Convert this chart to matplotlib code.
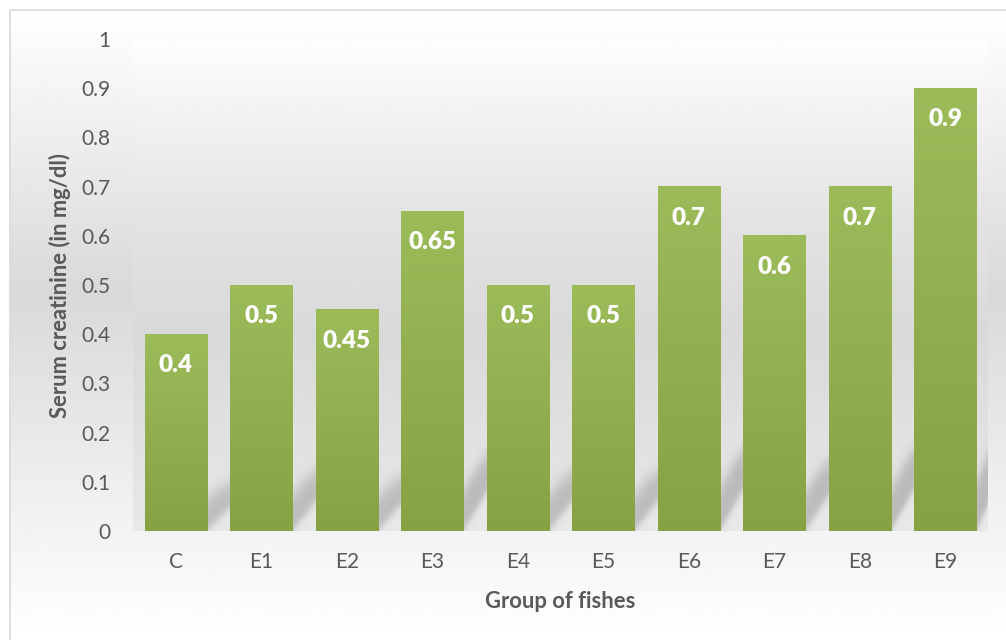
import numpy as np
import matplotlib
matplotlib.use('Agg')
import matplotlib.pyplot as plt
from matplotlib.colors import to_rgb

# ---------------- data ----------------
categories = ['C', 'E1', 'E2', 'E3', 'E4', 'E5', 'E6', 'E7', 'E8', 'E9']
values = [0.4, 0.5, 0.45, 0.65, 0.5, 0.5, 0.7, 0.6, 0.7, 0.9]
value_labels = ['0.4', '0.5', '0.45', '0.65', '0.5', '0.5', '0.7', '0.6', '0.7', '0.9']
y_ticks = [0, 0.1, 0.2, 0.3, 0.4, 0.5, 0.6, 0.7, 0.8, 0.9, 1.0]
y_tick_labels = ['0', '0.1', '0.2', '0.3', '0.4', '0.5', '0.6', '0.7', '0.8', '0.9', '1']
x_title = 'Group of fishes'
y_title = 'Serum creatinine (in mg/dl)'

# ---------------- style ----------------
W, H = 1006, 640
plt.rcParams['font.family'] = ['Lato', 'DejaVu Sans']
TXT = '#595959'
BAR_TOP = np.array(to_rgb('#9cbb59'))
BAR_BOT = np.array(to_rgb('#86a344'))
BAR_W = 0.726

fig = plt.figure(figsize=(W / 100, H / 100), dpi=100)
fig.patch.set_facecolor('white')

# chart-area background (gradient + border)
bg = fig.add_axes([0, 0, 1, 1], zorder=-10)
bg.axis('off')
g = np.interp(np.linspace(0, 1, 512), [0, 0.45, 1], [255, 217, 255]) / 255
bg.imshow(np.repeat(g[:, None], 2, axis=1), cmap='gray', vmin=0, vmax=1,
          extent=[10, W, H, 9], aspect='auto', interpolation='bilinear')
bg.plot([10.5, 10.5, W], [H, 9.5, 9.5], color='#d9d9d9', lw=1.2)
bg.set_xlim(0, W)
bg.set_ylim(H, 0)

# plot area
L, R, T, B = 133, 988, 39, 531
ax = fig.add_axes([L / W, (H - B) / H, (R - L) / W, (B - T) / H])
ax.set_facecolor('none')
for s in ax.spines.values():
    s.set_visible(False)

x = np.arange(len(categories))
xmin, xmax = -0.5, len(categories) - 0.5

# plot-area gradient
pg = np.interp(np.linspace(0, 1, 512), [0, 0.35, 0.6, 1], [253, 228, 217, 232]) / 255
ax.imshow(np.repeat(pg[:, None], 2, axis=1), cmap='gray', vmin=0, vmax=1,
          extent=[xmin, xmax + 0.04, 0, 1], aspect='auto', origin='upper',
          interpolation='bilinear', zorder=0)

# perspective shadows (computed in pixel units of the plot area)
px_x = (R - L) / (xmax - xmin)
px_y = (B - T)
nx, ny = R - L, B - T
Xp, Yp = np.meshgrid(np.arange(nx) + 0.5, np.arange(ny) + 0.5)
keep = np.ones_like(Xp)
sig = lambda z: 1 / (1 + np.exp(-z))
for xi, v in zip(x, values):
    h_px = v * px_y
    xr_px = (xi + BAR_W / 2 - xmin) * px_x
    slope = 0.0052 * h_px
    thick = 18 + 0.07 * h_px
    hs = 0.25 * h_px
    d = Yp - (Xp - xr_px) * slope
    band = sig(d / 3) * sig((thick - d) / 6) * sig((hs - Yp) / 6) * sig((Xp - xr_px + 6) / 2)
    a = 0.26 * band
    keep *= (1 - a)
shadow = np.zeros((ny, nx, 4))
shadow[..., :3] = 0.25
shadow[..., 3] = 1 - keep
ax.imshow(shadow, extent=[xmin, xmax, 0, 1], origin='lower', aspect='auto',
          interpolation='bilinear', zorder=1)

# bars with vertical gradient
bars = ax.bar(x, values, width=BAR_W, color='#90af4f', linewidth=0, zorder=2)
grad = np.linspace(0, 1, 256)[:, None, None]
grad_img = BAR_TOP[None, None, :] * (1 - grad) + BAR_BOT[None, None, :] * grad
for rect in bars:
    x0, w, h = rect.get_x(), rect.get_width(), rect.get_height()
    ax.imshow(grad_img, extent=[x0, x0 + w, 0, h], aspect='auto', origin='upper',
              interpolation='bilinear', zorder=3)

# value labels
for xi, v, lab in zip(x, values, value_labels):
    ax.annotate(lab, (xi, v), xytext=(0, -29 * 0.72), textcoords='offset points',
                ha='center', va='center_baseline', color='white', fontsize=17.5,
                fontweight='heavy', zorder=5)

ax.set_xlim(xmin, xmax)
ax.set_ylim(0, 1)
ax.set_xticks(x, categories)
ax.set_yticks(y_ticks, y_tick_labels)
ax.tick_params(axis='both', length=0, labelsize=15, colors=TXT)
ax.tick_params(axis='y', pad=16.5)
ax.tick_params(axis='x', pad=15)

fig.text(60 / W, 1 - 285 / H, y_title, rotation=90, ha='center', va='center',
         fontsize=15.8, fontweight='bold', color=TXT)
fig.text((L + R) / 2 / W, 1 - 601 / H, x_title, ha='center', va='center',
         fontsize=15.8, fontweight='bold', color=TXT)

fig.savefig('out.png', dpi=100)
